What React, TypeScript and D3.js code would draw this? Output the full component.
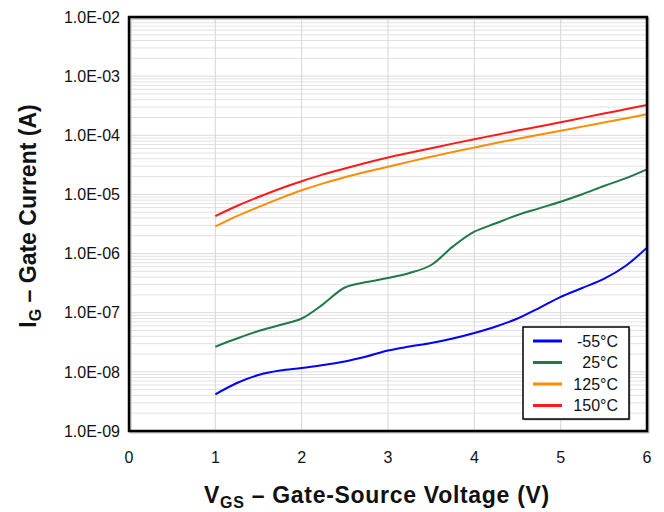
import React from 'react';
import * as d3 from 'd3';

// gate voltage (V) sample points
const vgs = [1, 1.25, 1.5, 1.75, 2, 2.25, 2.5, 2.75, 3, 3.25, 3.5, 3.75, 4, 4.25, 4.5, 4.75, 5, 5.25, 5.5, 5.75, 6];

// gate current (A) per temperature
const igMinus55 = [4.17e-9, 6.48e-9, 8.85e-9, 1.05e-8, 1.16e-8, 1.31e-8, 1.5e-8, 1.82e-8, 2.3e-8, 2.68e-8, 3.07e-8, 3.66e-8, 4.54e-8, 5.84e-8, 7.98e-8, 1.2e-7, 1.85e-7, 2.62e-7, 3.72e-7, 6.16e-7, 1.26e-6];
const ig25 = [2.66e-8, 3.66e-8, 4.91e-8, 6.2e-8, 7.98e-8, 1.4e-7, 2.67e-7, 3.3e-7, 3.86e-7, 4.69e-7, 6.41e-7, 1.31e-6, 2.34e-6, 3.25e-6, 4.49e-6, 5.82e-6, 7.54e-6, 1.005e-5, 1.39e-5, 1.87e-5, 2.66e-5];
const ig125 = [2.89e-6, 4.31e-6, 6.12e-6, 8.59e-6, 1.175e-5, 1.54e-5, 1.95e-5, 2.41e-5, 2.93e-5, 3.59e-5, 4.33e-5, 5.21e-5, 6.21e-5, 7.38e-5, 8.69e-5, 1.02e-4, 1.19e-4, 1.4e-4, 1.64e-4, 1.93e-4, 2.26e-4];
const ig150 = [4.31e-6, 6.37e-6, 9.04e-6, 1.25e-5, 1.67e-5, 2.18e-5, 2.75e-5, 3.43e-5, 4.21e-5, 5.06e-5, 6.05e-5, 7.23e-5, 8.59e-5, 1.015e-4, 1.2e-4, 1.41e-4, 1.66e-4, 1.97e-4, 2.33e-4, 2.75e-4, 3.25e-4];

const seriesLabels = ['-55°C', '25°C', '125°C', '150°C'];
const seriesColors = ['#0000ff', '#1f7a45', '#ff8c00', '#ff1a1a'];
const seriesValues = [igMinus55, ig25, ig125, ig150];

const xTicks = [0, 1, 2, 3, 4, 5, 6];
const yTicks = [1e-9, 1e-8, 1e-7, 1e-6, 1e-5, 1e-4, 1e-3, 1e-2];
const yTickLabels = ['1.0E-09', '1.0E-08', '1.0E-07', '1.0E-06', '1.0E-05', '1.0E-04', '1.0E-03', '1.0E-02'];

const W = 664;
const H = 512;
const margin = { top: 17, right: 17, bottom: 81, left: 129 };
const font = '"Liberation Sans", Arial, Helvetica, sans-serif';

export default function App() {
  const x = d3.scaleLinear().domain([0, 6]).range([margin.left, W - margin.right]);
  const y = d3.scaleLog().domain([1e-9, 1e-2]).range([H - margin.bottom, margin.top]);

  const line = d3
    .line<number>()
    .x((_, i) => x(vgs[i]))
    .y((d) => y(d))
    .curve(d3.curveCatmullRom.alpha(0.5));

  // minor grid: 2..9 x each decade
  const minor: number[] = [];
  for (let e = -9; e < -2; e++) {
    for (let m = 2; m <= 9; m++) minor.push(m * Math.pow(10, e));
  }

  const x0 = x(0);
  const x1 = x(6);
  const y0 = y(1e-9);
  const y1 = y(1e-2);

  const legX = 523;
  const legY = 327;

  return (
    <svg width={W} height={H} style={{ position: 'absolute', left: 0, top: 0, background: '#fff' }} fontFamily={font}>
      <rect x={x0} y={y1} width={x1 - x0} height={y0 - y1} fill="#fff" />
      {minor.map((v, i) => (
        <line key={'m' + i} x1={x0} x2={x1} y1={y(v)} y2={y(v)} stroke="#e2e2e2" strokeWidth={1} />
      ))}
      {yTicks.map((v, i) => (
        <line key={'M' + i} x1={x0} x2={x1} y1={y(v)} y2={y(v)} stroke="#dadada" strokeWidth={1} />
      ))}
      {xTicks.slice(1, -1).map((v) => (
        <line key={'v' + v} x1={x(v)} x2={x(v)} y1={y1} y2={y0} stroke="#d6d6d6" strokeWidth={1} />
      ))}

      {seriesValues.map((s, i) => (
        <path key={seriesLabels[i]} d={line(s) || ''} fill="none" stroke={seriesColors[i]} strokeWidth={2} />
      ))}

      {/* frame with a faint shadow */}
      <rect x={x0 + 1.5} y={y1 + 1.5} width={x1 - x0} height={y0 - y1} fill="none" stroke="#bbb" strokeWidth={2} />
      <rect x={x0} y={y1} width={x1 - x0} height={y0 - y1} fill="none" stroke="#000" strokeWidth={2.5} />

      {yTicks.map((v, i) => (
        <text key={'yt' + i} x={x0 - 9} y={y(v)} dy="0.36em" textAnchor="end" fontSize={16} fill="#111">
          {yTickLabels[i]}
        </text>
      ))}
      {xTicks.map((v) => (
        <text key={'xt' + v} x={x(v)} y={y0 + 32} textAnchor="middle" fontSize={16} fill="#111">
          {v}
        </text>
      ))}

      <text x={377} y={503} textAnchor="middle" fontSize={23} fontWeight="bold" fill="#111" letterSpacing={0.7}>
        V<tspan fontSize={16} dy={5}>GS</tspan>
        <tspan dy={-5}> – Gate-Source Voltage (V)</tspan>
      </text>
      <text
        transform={`translate(36,216) rotate(-90)`}
        textAnchor="middle"
        fontSize={23}
        fontWeight="bold"
        fill="#111"
      >
        I<tspan fontSize={16} dy={5}>G</tspan>
        <tspan dy={-5}> – Gate Current (A)</tspan>
      </text>

      <g transform={`translate(${legX},${legY})`}>
        <rect x={1.5} y={1.5} width={106} height={92} fill="#bbb" />
        <rect width={106} height={92} fill="#fff" stroke="#000" strokeWidth={1.5} />
        {seriesLabels.map((lab, i) => (
          <g key={lab} transform={`translate(0,${14 + i * 21.5})`}>
            <line x1={10} x2={39} y1={0} y2={0} stroke={seriesColors[i]} strokeWidth={3} />
            <text x={95} y={0} dy="0.36em" textAnchor="end" fontSize={16} fill="#111">
              {lab}
            </text>
          </g>
        ))}
      </g>
    </svg>
  );
}
